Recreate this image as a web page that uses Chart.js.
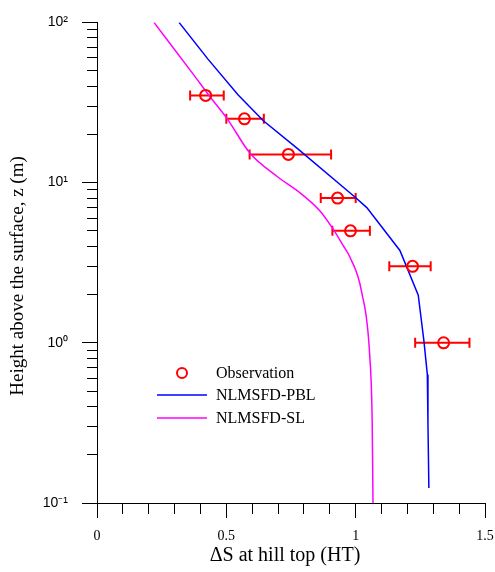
<!DOCTYPE html>
<html>
<head>
<meta charset="utf-8">
<script src="https://cdn.jsdelivr.net/npm/chart.js@4"></script>
<style>
html,body{margin:0;padding:0;background:#fff;}
canvas{display:block;}
</style>
</head>
<body>
<canvas id="c" width="495" height="572"></canvas>
<script>
// ---- data ----
const obsZ     = [35, 25, 15, 8, 5, 3, 1];
const obsX     = [0.42, 0.57, 0.74, 0.93, 0.98, 1.22, 1.34];
const obsXLow  = [0.36, 0.50, 0.59, 0.865, 0.91, 1.13, 1.23];
const obsXHigh = [0.49, 0.645, 0.905, 1.0, 1.055, 1.29, 1.44];

const pblX = [0.317, 0.429, 0.545, 0.642, 0.773, 0.997, 1.043, 1.171, 1.242, 1.264, 1.277, 1.2795, 1.283];
const pblZ = [100, 59.0, 35.4, 24.4, 16.4, 8.13, 6.98, 3.77, 1.98, 1.02, 0.635, 0.311, 0.124];

const slX = [0.220, 0.371, 0.433, 0.503, 0.591, 0.695, 0.785, 0.862, 0.913, 0.952, 0.978, 1.023, 1.055, 1.064, 1.067];
const slZ = [100, 47.7, 35.0, 25.1, 15.3, 10.96, 8.63, 6.65, 5.12, 4.04, 3.42, 2.08, 0.80, 0.31, 0.1];

const seriesNames = ['Observation', 'NLMSFD-PBL', 'NLMSFD-SL'];

const xTickValues = [0, 0.5, 1, 1.5];
const xTickLabels = ['0', '0.5', '1', '1.5'];
const yTickValues = [0.1, 1, 10, 100];
const yTickLabels = ['10\u207B\u00B9', '10\u2070', '10\u00B9', '10\u00B2'];
const xTitle = '\u0394S at hill top (HT)';
const yTitle = 'Height above the surface, z (m)';

// ---- helpers ----
const pts = (xs, ys) => xs.map((x, i) => ({x: x, y: ys[i]}));
const isMajorX = v => xTickValues.some(t => Math.abs(t - v) < 1e-6);
const isMajorY = v => yTickValues.some(t => Math.abs(t - v) < 1e-9 * Math.max(1, t));
const serif = '"Liberation Serif", "Times New Roman", serif';

const errorBars = {
  id: 'errorBars',
  beforeDatasetsDraw(chart) {
    const {ctx, scales: {x, y}} = chart;
    ctx.save();
    ctx.strokeStyle = '#ff0000';
    ctx.lineWidth = 2;
    for (let i = 0; i < obsZ.length; i++) {
      const py = y.getPixelForValue(obsZ[i]);
      const x0 = x.getPixelForValue(obsXLow[i]);
      const x1 = x.getPixelForValue(obsXHigh[i]);
      ctx.beginPath();
      ctx.moveTo(x0, py); ctx.lineTo(x1, py);
      ctx.moveTo(x0, py - 5); ctx.lineTo(x0, py + 5);
      ctx.moveTo(x1, py - 5); ctx.lineTo(x1, py + 5);
      ctx.stroke();
    }
    ctx.restore();
  }
};

const legendAndTitles = {
  id: 'legendAndTitles',
  afterDraw(chart) {
    const ctx = chart.ctx;
    ctx.save();
    ctx.fillStyle = '#000';
    ctx.textBaseline = 'middle';
    // axis titles
    ctx.textAlign = 'center';
    ctx.font = '20px ' + serif;
    ctx.fillText(xTitle, 285, 556);
    ctx.save();
    ctx.translate(18, 276);
    ctx.rotate(-Math.PI / 2);
    ctx.font = '19px ' + serif;
    ctx.fillText(yTitle, 0, 0);
    ctx.restore();
    // legend
    ctx.font = '16px ' + serif;
    ctx.textAlign = 'left';
    ctx.strokeStyle = '#ff0000';
    ctx.lineWidth = 2;
    ctx.beginPath(); ctx.arc(182, 373, 5, 0, Math.PI * 2); ctx.stroke();
    ctx.fillText(seriesNames[0], 216, 374);
    ctx.lineWidth = 1.5;
    ctx.strokeStyle = '#0000ff';
    ctx.beginPath(); ctx.moveTo(157, 395); ctx.lineTo(207, 395); ctx.stroke();
    ctx.fillText(seriesNames[1], 216, 396);
    ctx.strokeStyle = '#ff00ff';
    ctx.beginPath(); ctx.moveTo(157, 418); ctx.lineTo(207, 418); ctx.stroke();
    ctx.fillText(seriesNames[2], 216, 419);
    ctx.restore();
  }
};

new Chart(document.getElementById('c'), {
  type: 'scatter',
  data: {
    datasets: [
      {
        label: seriesNames[0],
        data: pts(obsX, obsZ),
        pointStyle: 'circle',
        pointRadius: 5.5,
        pointBorderWidth: 2,
        pointBorderColor: '#ff0000',
        pointBackgroundColor: 'rgba(0,0,0,0)',
        showLine: false,
        order: 0
      },
      {
        label: seriesNames[1],
        data: pts(pblX, pblZ),
        showLine: true,
        borderColor: '#0000ff',
        borderWidth: 1.5,
        pointRadius: 0,
        tension: 0,
        fill: false,
        order: 1
      },
      {
        label: seriesNames[2],
        data: pts(slX, slZ),
        showLine: true,
        borderColor: '#ff00ff',
        borderWidth: 1.5,
        pointRadius: 0,
        cubicInterpolationMode: 'monotone',
        fill: false,
        order: 2
      }
    ]
  },
  options: {
    responsive: false,
    devicePixelRatio: 1,
    animation: false,
    layout: {padding: {top: 18, right: 10, left: 0, bottom: 0}},
    plugins: {legend: {display: false}, tooltip: {enabled: false}},
    scales: {
      x: {
        type: 'linear',
        position: 'bottom',
        min: 0, max: 1.5,
        afterBuildTicks: s => {
          const t = [];
          for (let i = 0; i <= 15; i++) t.push({value: i / 10});
          s.ticks = t;
        },
        afterFit: s => { s.height = 69; s.paddingRight = 0; s.paddingLeft = 0; },
        ticks: {
          autoSkip: false,
          maxRotation: 0,
          padding: 10,
          color: '#000',
          font: {family: serif, size: 14},
          callback: v => { const k = xTickValues.findIndex(t => Math.abs(t - v) < 1e-6); return k >= 0 ? xTickLabels[k] : ''; }
        },
        grid: {
          drawOnChartArea: false,
          drawTicks: true,
          tickLength: 15,
          tickColor: '#000',
          tickWidth: 1,
          tickBorderDash: ctx => (ctx.tick && isMajorX(ctx.tick.value)) ? [] : [10, 100]
        },
        border: {display: true, color: '#000', width: 1},
        title: {display: false}
      },
      y: {
        type: 'logarithmic',
        position: 'left',
        min: 0.1, max: 100,
        afterBuildTicks: s => {
          const t = [];
          [0.1, 1, 10].forEach(d => { for (let m = 1; m <= 9; m++) t.push({value: +(m * d).toPrecision(6)}); });
          t.push({value: 100});
          s.ticks = t;
        },
        afterFit: s => { s.width = 97; },
        ticks: {
          autoSkip: false,
          padding: 14,
          color: '#000',
          font: {family: '"Liberation Sans", Arial, sans-serif', size: 14},
          callback: v => { const k = yTickValues.findIndex(t => Math.abs(t - v) < 1e-9 * Math.max(1, t)); return k >= 0 ? yTickLabels[k] : ''; }
        },
        grid: {
          drawOnChartArea: false,
          drawTicks: true,
          tickLength: 15,
          tickColor: '#000',
          tickWidth: 1,
          tickBorderDash: ctx => (ctx.tick && isMajorY(ctx.tick.value)) ? [] : [0, 5, 20, 0]
        },
        border: {display: true, color: '#000', width: 1},
        title: {display: false}
      }
    }
  },
  plugins: [errorBars, legendAndTitles]
});
</script>
</body>
</html>
